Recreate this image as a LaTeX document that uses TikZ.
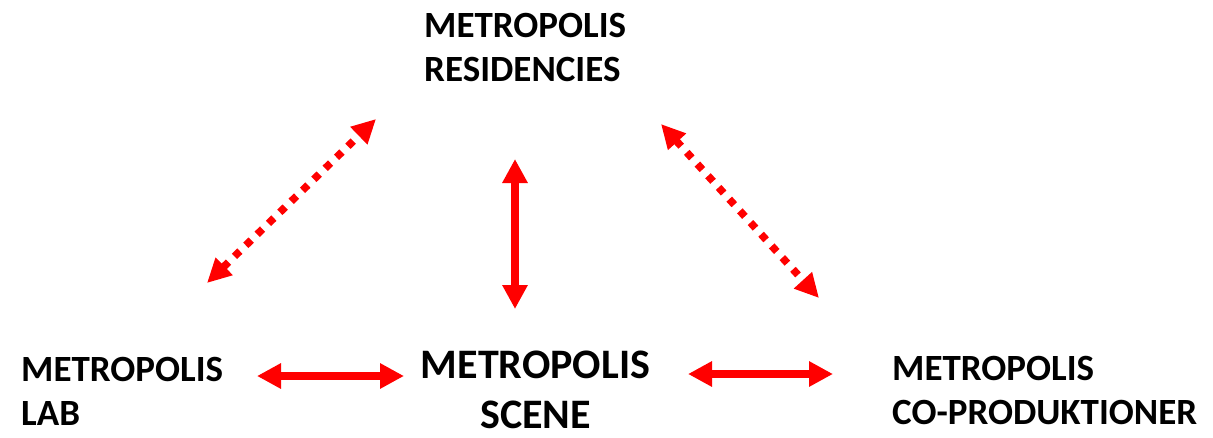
\documentclass[tikz,border=0pt]{standalone}
\usepackage{fontspec}
\setmainfont{Carlito}
\usetikzlibrary{arrows.meta}
\begin{document}
\begin{tikzpicture}[x=1pt,y=-1pt,
  lbl/.style={inner sep=0pt, align=left, anchor=north west, font=\fontsize{37}{44}\selectfont\bfseries},
  biglbl/.style={inner sep=0pt, align=center, anchor=north, font=\fontsize{42}{50}\selectfont\bfseries},
  solidarrow/.style={draw=red, line width=7.5pt, {Triangle[length=24pt,width=24pt]}-{Triangle[length=24pt,width=24pt]}},
  dotarrow/.style={draw=red, line width=7.5pt, dash pattern=on 7.5pt off 8.3pt, {Triangle[length=24pt,width=23pt]}-{Triangle[length=24pt,width=23pt]}}]
\useasboundingbox (0,0) rectangle (1213,437);
\fill[white] (0,0) rectangle (1213,437);
% labels
\node[lbl] (res) at (424,13) {METROPOLIS\\RESIDENCIES};
\node[lbl] (lab) at (21,357) {METROPOLIS\\LAB};
\node[biglbl] (scene) at (535.5,351) {METROPOLIS\\SCENE};
\node[lbl] (cop) at (892,356) {METROPOLIS\\CO-PRODUKTIONER};
% arrow end points
\coordinate (labE) at (257,376);
\coordinate (sceneW) at (404,376);
\coordinate (sceneE) at (688,374);
\coordinate (copW) at (833,374);
\coordinate (resS) at (515,159);
\coordinate (sceneN) at (515,309);
\coordinate (labNE) at (207,283);
\coordinate (resSW) at (376,119);
\coordinate (resSE) at (661,124);
\coordinate (copNW) at (819,298);
% connectors
\draw[solidarrow] (labE) -- (sceneW);
\draw[solidarrow] (sceneE) -- (copW);
\draw[solidarrow] (resS) -- (sceneN);
\draw[dotarrow] (labNE) -- (resSW);
\draw[dotarrow] (resSE) -- (copNW);
\end{tikzpicture}
\end{document}
